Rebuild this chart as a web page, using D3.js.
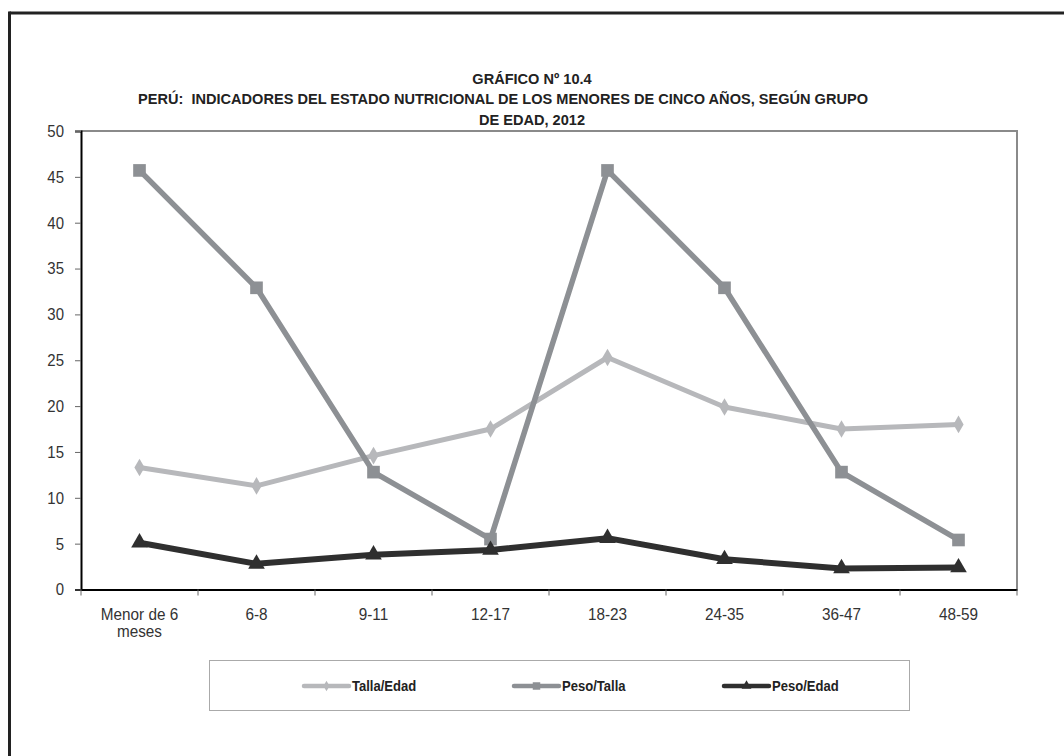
<!DOCTYPE html>
<html>
<head>
<meta charset="utf-8">
<script src="https://cdn.jsdelivr.net/npm/d3@7"></script>
<style>
  html, body { margin: 0; padding: 0; background: #fff; }
  svg { display: block; }
  text { font-family: "Liberation Sans Narrow", "Arial Narrow", "Liberation Sans", Arial, sans-serif; white-space: pre; }
</style>
</head>
<body>
<svg id="chart" width="1064" height="756"></svg>
<script>
const categories = ["Menor de 6\nmeses", "6-8", "9-11", "12-17", "18-23", "24-35", "36-47", "48-59"];
const tallaEdad = [13.3, 11.3, 14.6, 17.5, 25.3, 19.9, 17.5, 18.0];
const pesoTalla = [45.7, 32.9, 12.8, 5.5, 45.7, 32.9, 12.8, 5.4];
const pesoEdad  = [5.1, 2.8, 3.8, 4.3, 5.6, 3.3, 2.3, 2.4];
const yTicks = [0, 5, 10, 15, 20, 25, 30, 35, 40, 45, 50];
const titleLines = ["GRÁFICO Nº 10.4",
  "PERÚ:  INDICADORES DEL ESTADO NUTRICIONAL DE LOS MENORES DE CINCO AÑOS, SEGÚN GRUPO",
  "DE EDAD, 2012"];
const seriesNames = ["Talla/Edad", "Peso/Talla", "Peso/Edad"];

(function () {
const series = [
  {name: seriesNames[0], values: tallaEdad, color: "#b7b8bb", width: 5, symbol: d3.symbolDiamond, size: 90},
  {name: seriesNames[1], values: pesoTalla, color: "#8d9094", width: 5.5, symbol: d3.symbolSquare, size: 160},
  {name: seriesNames[2], values: pesoEdad, color: "#2f2f2f", width: 6, symbol: d3.symbolTriangle, size: 120}
];

const svg = d3.select("#chart");

function ctext(parent, x, y, str, opts) {
  const t = parent.append("text")
    .attr("transform", `translate(${x},${y}) scale(${opts.sx},1)`)
    .attr("text-anchor", opts.anchor || "start")
    .attr("font-size", opts.size)
    .attr("font-weight", opts.weight || "normal")
    .attr("fill", opts.fill || "#333")
    .text(str);
  return t;
}

// outer frame (top and left edges)
svg.append("line").attr("x1", 9.5).attr("x2", 1064).attr("y1", 13).attr("y2", 13)
  .attr("stroke", "#222").attr("stroke-width", 3);
svg.append("line").attr("x1", 9.5).attr("x2", 9.5).attr("y1", 11.5).attr("y2", 756)
  .attr("stroke", "#222").attr("stroke-width", 3);

const pL = 81, pR = 1017, pT = 131, pB = 589.5;

const x = d3.scaleBand().domain(d3.range(categories.length)).range([pL, pR]).padding(0);
const y = d3.scaleLinear().domain([0, 50]).range([pB, pT]);

svg.append("path")
  .attr("d", `M${pL},${pT}H${pR}V${pB}`)
  .attr("fill", "none").attr("stroke", "#8a8a8a").attr("stroke-width", 2);

// title
const titleX = [532, 503, 532];
const titleY = [84, 104, 125];
titleLines.forEach((t, i) => {
  ctext(svg, titleX[i], titleY[i], t, {sx: 0.94, size: 15.5, weight: "bold", anchor: "middle", fill: "#222"});
});

// y axis
const yAxis = d3.axisLeft(y).tickValues(yTicks).tickSize(6).tickPadding(11);
const gy = svg.append("g").attr("transform", `translate(${pL},0)`).call(yAxis);
gy.select(".domain").attr("stroke", "#000").attr("stroke-width", 2);
gy.selectAll(".tick line").attr("stroke", "#666");
gy.selectAll(".tick text")
  .attr("x", 0)
  .attr("transform", "translate(-17,0) scale(0.88,1)")
  .attr("font-size", 17).attr("fill", "#333")
  .attr("font-family", null);

// x axis
const xAxis = d3.axisBottom(x).tickSize(0).tickFormat(() => "");
const gx = svg.append("g").attr("transform", `translate(0,${pB})`).call(xAxis);
gx.select(".domain").attr("stroke", "#000").attr("stroke-width", 2);
const bounds = d3.range(categories.length + 1).map(i => i < categories.length ? x(i) : x(categories.length - 1) + x.bandwidth());
svg.append("g").selectAll("line").data(bounds).join("line")
  .attr("x1", d => d).attr("x2", d => d)
  .attr("y1", pB).attr("y2", pB + 6)
  .attr("stroke", "#666").attr("stroke-width", 1);
const xlg = svg.append("g");
categories.forEach((c, i) => {
  const t = ctext(xlg, x(i) + x.bandwidth() / 2, pB + 30, "", {sx: 0.9, size: 17, anchor: "middle"});
  c.split("\n").forEach((p, j) => {
    t.append("tspan").attr("x", 0).attr("dy", j === 0 ? 0 : 18).text(p);
  });
});

// lines
const line = d3.line().x((d, i) => x(i) + x.bandwidth() / 2).y(d => y(d));
series.forEach(s => {
  svg.append("path").datum(s.values).attr("d", line)
    .attr("fill", "none").attr("stroke", s.color).attr("stroke-width", s.width)
    .attr("stroke-linejoin", "round");
});
series.forEach(s => {
  svg.append("g").selectAll("path").data(s.values).join("path")
    .attr("transform", (d, i) => `translate(${x(i) + x.bandwidth() / 2},${y(d)})`)
    .attr("d", d3.symbol().type(s.symbol).size(s.size))
    .attr("fill", s.color);
});

// legend
svg.append("rect").attr("x", 209.5).attr("y", 660.5).attr("width", 700).attr("height", 50)
  .attr("fill", "none").attr("stroke", "#aaa").attr("stroke-width", 1);
const legX = [302, 512, 722];
series.forEach((s, i) => {
  const g = svg.append("g").attr("transform", `translate(${legX[i]},686)`);
  g.append("line").attr("x1", 2).attr("x2", 47).attr("y1", 0).attr("y2", 0)
    .attr("stroke", s.color).attr("stroke-width", 4.5).attr("stroke-linecap", "round");
  g.append("path").attr("transform", "translate(24.5,0)")
    .attr("d", d3.symbol().type(s.symbol).size(s.size * 0.35)).attr("fill", s.color);
  ctext(g, 50, 5, s.name, {sx: 0.9, size: 14.5, weight: "bold", fill: "#222"});
});
})();
</script>
</body>
</html>
